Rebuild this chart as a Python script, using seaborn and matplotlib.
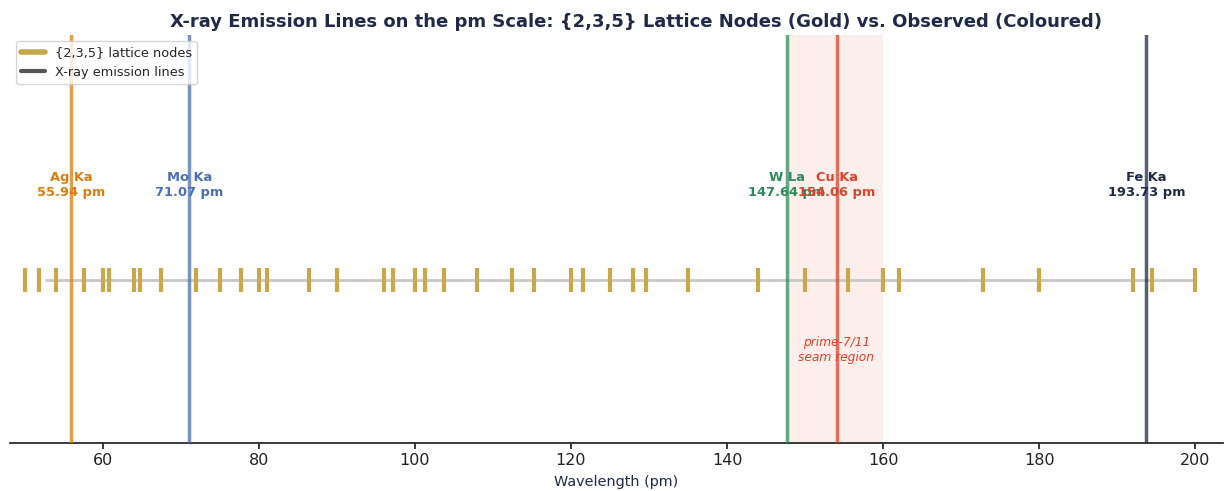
import numpy as np
import pandas as pd
import matplotlib
matplotlib.use("Agg")
import matplotlib.pyplot as plt
import seaborn as sns
from matplotlib.lines import Line2D

sns.set_theme(style="white")
plt.rcParams['font.family'] = ['DejaVu Sans']

# {2,3,5} lattice nodes (pm)
lattice_nodes = [50, 51.84, 54, 57.6, 60, 60.75, 64, 64.8, 67.5, 72, 75, 77.76,
                 80, 81, 86.4, 90, 96, 97.2, 100, 101.25, 103.68, 108, 112.5,
                 115.2, 120, 121.5, 125, 128, 129.6, 135, 144, 150, 155.52,
                 160, 162, 172.8, 180, 192, 194.4, 200]

# observed X-ray emission lines
line_names = ["Ag Ka", "Mo Ka", "W La", "Cu Ka", "Fe Ka"]
line_values = [55.94, 71.07, 147.64, 154.06, 193.73]
line_colors = ["#dc7e0c", "#4a6fb5", "#2e8b57", "#d9442b", "#1f2a48"]

seam_range = [148, 160]

nodes_df = pd.DataFrame({"pm": lattice_nodes, "y": 0.0})

fig, ax = plt.subplots(figsize=(12.25, 4.91), dpi=100)

# seam region shading
ax.axvspan(seam_range[0], seam_range[1], color="#d9442b", alpha=0.09, lw=0, zorder=0)
ax.text(np.mean(seam_range), -0.43, "prime-7/11\nseam region", ha="center", va="center",
        fontsize=8.8, style="italic", color="#d9442b", zorder=1)

# baseline
ax.hlines(0, 52.6, 200, color="#c8c8c8", lw=2, zorder=1)

# lattice node ticks
sns.scatterplot(data=nodes_df, x="pm", y="y", marker="|", s=300, linewidth=3,
                color="#c9a84c", ax=ax, zorder=2, legend=False)

# emission lines
for name, val, col in zip(line_names, line_values, line_colors):
    ax.axvline(val, color=col, lw=2.5, alpha=0.75, zorder=3)
    ax.text(val, 0.58, f"{name}\n{val:.2f} pm", ha="center", va="center",
            fontsize=9.4, fontweight="bold", color=col, zorder=2, linespacing=1.15)

ax.set_xlim(48.08, 203.5)
ax.set_ylim(-1, 1.5)
ax.set_yticks([])
sns.despine(ax=ax, left=True)
ax.spines["bottom"].set_color("#222222")
ax.tick_params(axis="x", bottom=True, length=4, labelsize=11.5, colors="#222222")
ax.set_xlabel("Wavelength (pm)", fontsize=10.4, color="#1f2a48", labelpad=5)
ax.set_ylabel("")
ax.set_title("X-ray Emission Lines on the pm Scale: {2,3,5} Lattice Nodes (Gold) vs. Observed (Coloured)",
             fontsize=13, fontweight="bold", color="#1f2a48", x=0.5165)

handles = [Line2D([0], [0], color="#c9a84c", lw=4),
           Line2D([0], [0], color="#555555", lw=3)]
ax.legend(handles, ["{2,3,5} lattice nodes", "X-ray emission lines"], loc="upper left",
          fontsize=9.3, framealpha=0.8, handlelength=1.8)

plt.subplots_adjust(left=0.008, right=0.998, top=0.929, bottom=0.098)
plt.savefig("out.png", dpi=100)
